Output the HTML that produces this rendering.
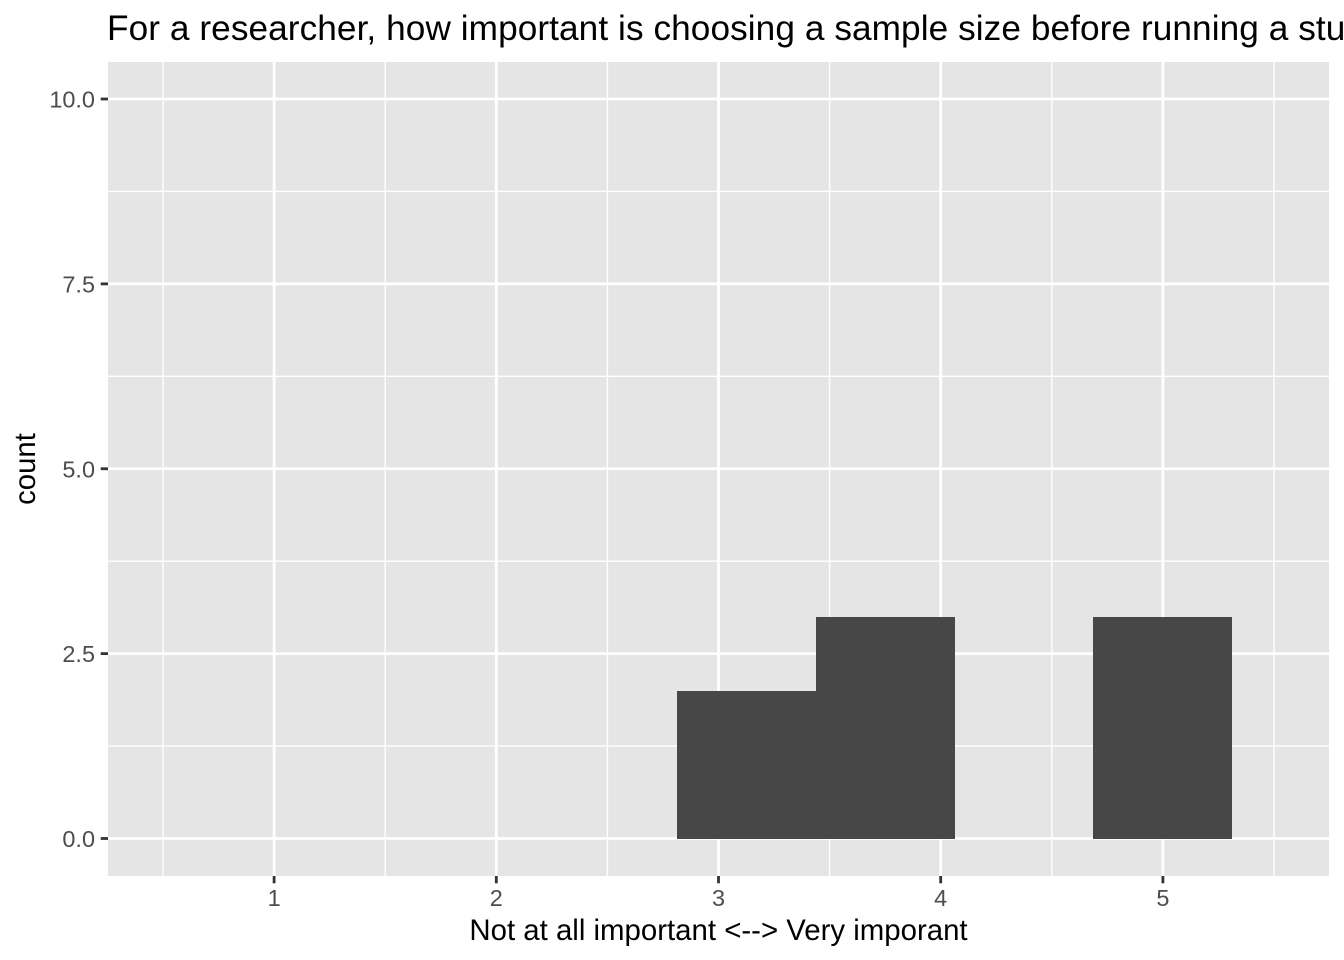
<!DOCTYPE html>
<html lang="en">
<head>
<meta charset="utf-8">
<title>Sample size importance histogram</title>
<style>
html,body{margin:0;padding:0;background:#fff;width:1344px;height:960px;overflow:hidden}
svg{display:block;font-family:"Liberation Sans",Arial,sans-serif}
</style>
</head>
<body>
<svg id="chart" xmlns="http://www.w3.org/2000/svg" width="1344" height="960" viewBox="0 0 1344 960">
<rect x="0" y="0" width="1344" height="960" fill="#fff"/>
<rect x="108" y="62" width="1221" height="814" fill="#e5e5e5"/>
<g id="grid"></g>
<g id="bars" shape-rendering="crispEdges"></g>
<g id="axes"></g>
<text x="107" y="40" font-size="35.2" letter-spacing="0.08" fill="#000">For a researcher, how important is choosing a sample size before running a study?</text>
<text x="718.5" y="940" font-size="29.4" fill="#000" text-anchor="middle">Not at all important &lt;--&gt; Very imporant</text>
<text transform="translate(35,469) rotate(-90)" font-size="29.33" fill="#000" text-anchor="middle">count</text>
</svg>
<script>
const binCenters = [3.125, 3.75, 4.375, 5];
const binCounts = [2, 3, 0, 3];
const binWidth = 0.625;
const xTicks = [1, 2, 3, 4, 5];
const xMinorTicks = [0.5, 1.5, 2.5, 3.5, 4.5, 5.5];
const yTicks = [0, 2.5, 5, 7.5, 10];
const yTickLabels = ['0.0', '2.5', '5.0', '7.5', '10.0'];
const yMinorTicks = [1.25, 3.75, 6.25, 8.75];

const NS = 'http://www.w3.org/2000/svg';
const panelLeft = 108, panelRight = 1329, panelTop = 62, panelBottom = 876;
function xScale(v) { return 274.1 + (v - 1) * 222.2; }
function yScale(v) { return 838.5 - v * 73.95; }
function make(tag, attrs, parent) {
  const el = document.createElementNS(NS, tag);
  for (const k in attrs) el.setAttribute(k, attrs[k]);
  parent.appendChild(el);
  return el;
}
const grid = document.getElementById('grid');
const bars = document.getElementById('bars');
const axes = document.getElementById('axes');

yMinorTicks.forEach(function (v) {
  const el = make('line', {x1: panelLeft, x2: panelRight, y1: yScale(v), y2: yScale(v), stroke: '#fff', 'stroke-width': 1.4}, grid);
  
  
});
xMinorTicks.forEach(function (v) {
  const el = make('line', {x1: xScale(v), x2: xScale(v), y1: panelTop, y2: panelBottom, stroke: '#fff', 'stroke-width': 1.4}, grid);
  
  
});
yTicks.forEach(function (v) {
  const el = make('line', {x1: panelLeft, x2: panelRight, y1: yScale(v), y2: yScale(v), stroke: '#fff', 'stroke-width': 2.8}, grid);
  
  
});
xTicks.forEach(function (v) {
  const el = make('line', {x1: xScale(v), x2: xScale(v), y1: panelTop, y2: panelBottom, stroke: '#fff', 'stroke-width': 2.8}, grid);
  
  
});

binCenters.forEach(function (c, i) {
  const x0 = Math.round(xScale(c - binWidth / 2));
  const x1 = Math.round(xScale(c + binWidth / 2));
  const top = Math.round(yScale(binCounts[i]));
  const el = make('rect', {x: x0, y: top, width: x1 - x0, height: Math.round(yScale(0)) - top, fill: '#474747'}, bars);
  
  
});

xTicks.forEach(function (v) {
  const tick = make('line', {x1: xScale(v), x2: xScale(v), y1: panelBottom, y2: panelBottom + 7.3, stroke: '#333', 'stroke-width': 2.8}, axes);
  
  
  const label = make('text', {x: xScale(v), y: 906, 'font-size': 23.47, fill: '#4d4d4d', 'text-anchor': 'middle'}, axes);
  
  
  label.textContent = String(v);
});
yTicks.forEach(function (v, i) {
  const tick = make('line', {x1: panelLeft - 7.3, x2: panelLeft, y1: yScale(v), y2: yScale(v), stroke: '#333', 'stroke-width': 2.8}, axes);
  
  
  const label = make('text', {x: 95, y: yScale(v) + 8.5, 'font-size': 23.47, fill: '#4d4d4d', 'text-anchor': 'end'}, axes);
  
  
  label.textContent = yTickLabels[i];
});
</script>
</body>
</html>
